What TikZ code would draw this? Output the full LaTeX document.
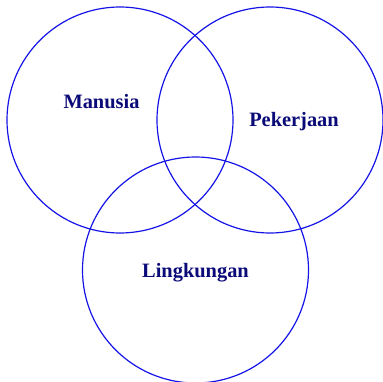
\documentclass[tikz,border=0pt]{standalone}
\usepackage{fontspec}
\setmainfont{Liberation Serif}
\definecolor{ringblue}{RGB}{20,20,230}
\definecolor{textnavy}{RGB}{10,10,120}
\begin{document}
\begin{tikzpicture}[
      x=1pt, y=-1pt,
      every node/.style={font=\fontsize{20.4}{24}\selectfont\bfseries, text=textnavy},
      ring/.style={draw=ringblue, circle, line width=1.2pt, minimum size=226pt, inner sep=0pt}
    ]
      \useasboundingbox (0,0) rectangle (382,382);
      \node[ring] (manusia) at (120,120) {};
      \node[ring] (pekerjaan) at (270,120) {};
      \node[ring] (lingkungan) at (195.5,270) {};
      \node (lmanusia) at (101.5,102) {Manusia};
      \node (lpekerjaan) at (294,122) {Pekerjaan};
      \node (llingkungan) at (195.5,272.5) {Lingkungan};
    \end{tikzpicture}
\end{document}
